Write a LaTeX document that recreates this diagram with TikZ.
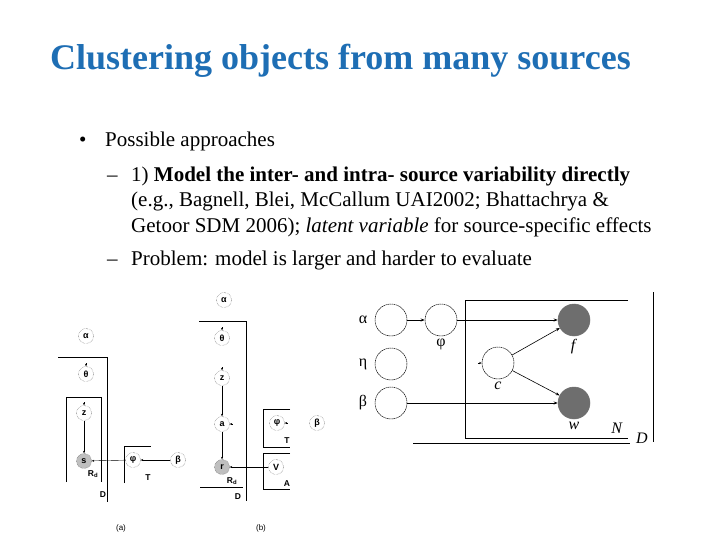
\documentclass[tikz,border=0pt]{standalone}
\usepackage{fontspec}
\setmainfont{Liberation Serif}
\newfontfamily\labelfont{Liberation Sans}
\usetikzlibrary{arrows.meta,positioning}
\definecolor{titleblue}{RGB}{30,110,180}
\definecolor{obsgray}{RGB}{110,110,110}

\begin{document}
\begin{tikzpicture}[
  x=1pt, y=-1pt,
  every node/.style={
    text=black
  },
  titletext/.style={
    anchor=base west,
    inner sep=0pt,
    text=titleblue,
    font=\fontsize{36}{40}\selectfont\bfseries
  },
  bodytext/.style={
    anchor=base west,
    inner sep=0pt,
    font=\fontsize{21}{25}\selectfont
  },
  smallvar/.style={
    circle,
    draw=black!75,
    densely dotted,
    line width=0.4pt,
    minimum size=15pt,
    inner sep=0pt,
    font=\labelfont\fontsize{9}{10}\selectfont\bfseries
  },
  smallobs/.style={
    smallvar,
    fill=black!25
  },
  bigvar/.style={
    circle,
    draw=black,
    dash pattern=on 1.5pt off 0.6pt,
    line width=0.5pt,
    minimum size=32pt,
    inner sep=0pt
  },
  bigobs/.style={
    bigvar,
    solid,
    draw=obsgray,
    fill=obsgray
  },
  varlabel/.style={
    inner sep=0pt,
    font=\fontsize{16}{18}\selectfont
  },
  plate/.style={
    draw=black,
    line width=0.7pt
  },
  platelabel/.style={
    inner sep=0pt,
    font=\labelfont\fontsize{8.5}{9}\selectfont\bfseries
  },
  caption/.style={
    inner sep=0pt,
    font=\labelfont\fontsize{8}{9}\selectfont
  },
  arrow/.style={
    -{Stealth[length=4pt,width=3pt]},
    line width=0.6pt
  },
  tinyarrow/.style={
    -{Stealth[length=2.5pt,width=2pt]},
    line width=0.4pt
  }
]
  \useasboundingbox (0,0) rectangle (720,540);

  % slide text
  \node[titletext] (title) at (50,70) {Clustering objects from many sources};
  \node[bodytext] (bullet) at (79,147) {\textbullet};
  \node[bodytext] (approaches) at (105,147) {Possible approaches};
  \node[bodytext] (dashone) at (107,182) {--};
  \node[bodytext] (lineone) at (131,182)
    {1) \textbf{Model the inter- and intra- source variability directly}};
  \node[bodytext] (linetwo) at (131,207)
    {(e.g., Bagnell, Blei, McCallum UAI2002; Bhattachrya \&};
  \node[bodytext] (linethree) at (131,233)
    {Getoor SDM 2006); \textit{latent variable} for source-specific effects};
  \node[bodytext] (dashtwo) at (107,265) {--};
  \node[bodytext] (linefour) at (131,265)
    {Problem: model is larger and harder to evaluate};

  % model (a)
  \node[smallvar] (aalpha) at (86,336) {α};
  \node[smallvar] (atheta) at (86,374) {θ};
  \node[smallvar] (az) at (84,413) {z};
  \node[smallobs] (as) at (84,461) {s};
  \node[smallvar] (aphi) at (133,460) {φ};
  \node[smallvar] (abeta) at (178,460) {β};

  \draw[tinyarrow] ([yshift=3pt]atheta.north) -- (atheta.north);
  \draw[tinyarrow] ([yshift=3pt]az.north) -- (az.north);
  \draw[tinyarrow] (az) -- (as);
  \draw[tinyarrow] (aphi) -- (as);
  \draw[tinyarrow] (abeta) -- (aphi);

  \draw[plate] (58,357) -- (107,357) -- (107,502);
  \draw[plate] (66,482) -- (66,397) -- (101,397) -- (101,482);
  \draw[plate] (124,483) -- (124,446) -- (151,446);
  \node[platelabel] (ard) at (93,474) {R\textsubscript{d}};
  \node[platelabel] (ad) at (103,495) {D};
  \node[platelabel] (at) at (148,478) {T};
  \node[caption] (acap) at (121,528) {(a)};

  % model (b)
  \node[smallvar] (balpha) at (224,300) {α};
  \node[smallvar] (btheta) at (222,338) {θ};
  \node[smallvar] (bz) at (222,378) {z};
  \node[smallvar] (ba) at (222,424) {a};
  \node[smallobs] (br) at (222,467) {r};
  \node[smallvar] (bphi) at (277,423) {φ};
  \node[smallvar] (bbeta) at (317,423) {β};
  \node[smallvar] (bv) at (276,467) {V};

  \draw[tinyarrow] ([yshift=3pt]btheta.north) -- (btheta.north);
  \draw[tinyarrow] ([yshift=3pt]bz.north) -- (bz.north);
  \draw[tinyarrow] ([xshift=3pt]ba.east) -- (ba.east);
  \draw[tinyarrow] ([xshift=3pt]bphi.east) -- (bphi.east);
  \draw[tinyarrow] (bz) -- (ba);
  \draw[tinyarrow] (ba) -- (br);
  \draw[tinyarrow] (bv) -- (br);

  \draw[plate] (199,321) -- (246,321) -- (246,501);
  \draw[plate] (200,487) -- (243,487);
  \draw[plate] (290,409) -- (263,409) -- (263,447) -- (290,447);
  \draw[plate] (290,453) -- (263,453) -- (263,489) -- (290,489);
  \node[platelabel] (brd) at (232,481) {R\textsubscript{d}};
  \node[platelabel] (bd) at (238,497) {D};
  \node[platelabel] (bt) at (287,441) {T};
  \node[platelabel] (ba2) at (287,484) {A};
  \node[caption] (bcap) at (261,528) {(b)};

  % model (c)
  \node[bigvar] (calpha) at (391,320) {};
  \node[bigvar] (cphi) at (441,320) {};
  \node[bigvar] (ceta) at (391,364) {};
  \node[bigvar] (cbeta) at (391,403) {};
  \node[bigvar] (cc) at (498,363) {};
  \node[bigobs] (cf) at (574,320) {};
  \node[bigobs] (cw) at (574,403) {};

  \node[varlabel] (calphalabel) at (363,320) {α};
  \node[varlabel] (cetalabel) at (363,364) {η};
  \node[varlabel] (cbetalabel) at (363,403) {β};
  \node[varlabel, below=3pt of cphi] (cphilabel) {φ};
  \node[varlabel, below=3pt of cc] (cclabel) {\textit{c}};
  \node[varlabel, below=3pt of cf] (cflabel) {\textit{f}};
  \node[varlabel, below=3pt of cw] (cwlabel) {\textit{w}};
  \node[varlabel] (cn) at (617,428) {\textit{N}};
  \node[varlabel] (cd) at (642,438) {\textit{D}};

  \draw[arrow] (calpha) -- (cphi);
  \draw[arrow] (cphi) -- (cf);
  \draw[arrow] (cc) -- (cf);
  \draw[arrow] (cc) -- (cw);
  \draw[arrow] (cbeta) -- (cw);
  \draw[tinyarrow] ([xshift=-4pt]cc.west) -- (cc.west);

  \draw[plate] (628,300) -- (465,300) -- (465,438) -- (628,438);
  \draw[plate] (413,443) -- (630,443);
  \draw[plate] (653,292) -- (653,442);
\end{tikzpicture}
\end{document}
